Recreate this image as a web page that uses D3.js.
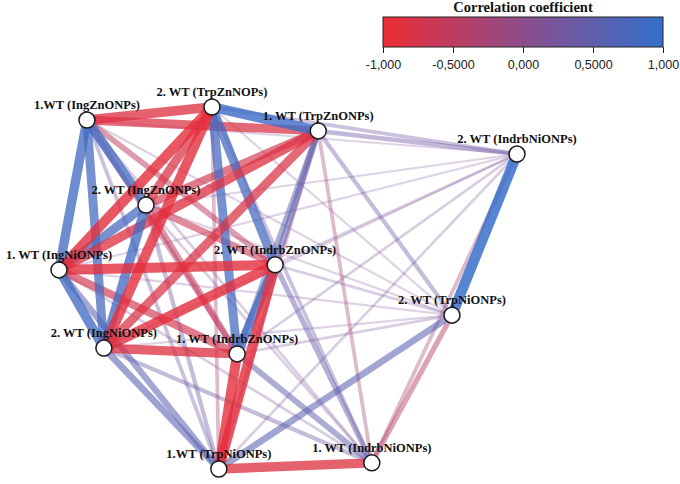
<!DOCTYPE html>
<html>
<head>
<meta charset="utf-8">
<script src="https://cdn.jsdelivr.net/npm/d3@7"></script>
<style>
  html, body { margin: 0; padding: 0; background: #fff; }
  svg { display: block; }
</style>
</head>
<body>
<svg id="chart" width="680" height="484"></svg>
<script>
// node names, in layout order
var nodeLabels = [
  "1.WT (IngZnONPs)",    // 0
  "2. WT (TrpZnNOPs)",   // 1
  "1. WT (TrpZnONPs)",   // 2
  "2. WT (IndrbNiONPs)", // 3
  "2. WT (IngZnONPs)",   // 4
  "1. WT (IngNiONPs)",   // 5
  "2. WT (IndrbZnONPs)", // 6
  "2. WT (TrpNiONPs)",   // 7
  "2. WT (IngNiONPs)",   // 8
  "1. WT (IndrbZnONPs)", // 9
  "1.WT (TrpNiONPs)",    // 10
  "1. WT (IndrbNiONPs)"  // 11
];

// layout coordinates (unit square)
var layoutX = [0.061, 0.334, 0.566, 1.000, 0.190, 0.000, 0.472, 0.858, 0.098, 0.389, 0.349, 0.683];
var layoutY = [0.036, 0.000, 0.066, 0.130, 0.271, 0.450, 0.436, 0.575, 0.666, 0.682, 1.000, 0.983];

// correlations [from, to, r]
var edges = [
  [0,1,-0.85],[0,2,-0.80],[0,3,0.15],[0,4,0.85],[0,5,0.85],[0,6,-0.50],
  [0,7,0.15],[0,8,0.80],[0,9,-0.45],[0,10,0.30],[0,11,0.20],
  [1,2,0.90],[1,3,0.30],[1,4,-0.80],[1,5,-0.90],[1,6,0.80],[1,7,0.15],
  [1,8,-0.90],[1,9,0.80],[1,10,-0.30],[1,11,0.30],
  [2,3,0.38],[2,4,-0.70],[2,5,-0.85],[2,6,0.55],[2,7,0.35],[2,8,-0.80],
  [2,9,0.50],[2,10,-0.30],[2,11,-0.30],
  [3,4,0.15],[3,5,0.15],[3,6,0.20],[3,7,0.95],[3,8,0.15],[3,9,0.20],
  [3,10,0.20],[3,11,-0.30],
  [4,5,0.80],[4,6,-0.60],[4,7,0.15],[4,8,0.85],[4,9,-0.55],[4,10,0.35],[4,11,0.20],
  [5,6,-0.90],[5,7,0.15],[5,8,0.85],[5,9,-0.70],[5,10,0.55],[5,11,0.20],
  [6,7,0.20],[6,8,-0.90],[6,9,0.85],[6,10,-0.90],[6,11,0.45],
  [7,8,0.15],[7,9,0.20],[7,10,0.58],[7,11,-0.45],
  [8,9,-0.85],[8,10,0.60],[8,11,0.35],
  [9,10,-0.90],[9,11,0.50],
  [10,11,-0.85]
];

var legendTicks = [-1, -0.5, 0, 0.5, 1];
var legendTickLabels = ["-1,000", "-0,5000", "0,000", "0,5000", "1,000"];

var svg = d3.select("#chart");

var x = d3.scaleLinear().domain([0, 1]).range([59, 517]);
var y = d3.scaleLinear().domain([0, 1]).range([107, 469]);

var color = d3.scaleLinear()
  .domain([-1, 0, 1])
  .range(["#ee2c35", "#8c4d8c", "#3470cc"]);
var width = d3.scaleLinear().domain([0, 1]).range([0.6, 11]);
var alpha = d3.scaleLinear().domain([0, 1]).range([0.15, 0.88]);

var sorted = edges.slice().sort(function(a, b) { return Math.abs(a[2]) - Math.abs(b[2]); });

svg.append("g").selectAll("line")
  .data(sorted)
  .enter().append("line")
  .attr("x1", function(d) { return x(layoutX[d[0]]); })
  .attr("y1", function(d) { return y(layoutY[d[0]]); })
  .attr("x2", function(d) { return x(layoutX[d[1]]); })
  .attr("y2", function(d) { return y(layoutY[d[1]]); })
  .attr("stroke", function(d) { return color(d[2]); })
  .attr("stroke-width", function(d) { return width(Math.abs(d[2])); })
  .attr("stroke-opacity", function(d) { return alpha(Math.abs(d[2])); });

// labels
svg.append("g").selectAll("text")
  .data(nodeLabels)
  .enter().append("text")
  .attr("x", function(d, i) { return x(layoutX[i]); })
  .attr("y", function(d, i) { return y(layoutY[i]) - 11; })
  .attr("text-anchor", "middle")
  .attr("font-family", "'Liberation Serif', 'Times New Roman', serif")
  .attr("font-weight", "bold")
  .attr("font-size", "12.5px")
  .attr("fill", "#111")
  .text(function(d) { return d; });

// nodes
svg.append("g").selectAll("circle")
  .data(nodeLabels)
  .enter().append("circle")
  .attr("cx", function(d, i) { return x(layoutX[i]); })
  .attr("cy", function(d, i) { return y(layoutY[i]); })
  .attr("r", 8)
  .attr("fill", "#fff")
  .attr("stroke", "#1a1a1a")
  .attr("stroke-width", 1.5);

// legend
var lx = d3.scaleLinear().domain([-1, 1]).range([383, 663]);
var defs = svg.append("defs");
var grad = defs.append("linearGradient").attr("id", "cgrad");
d3.range(0, 1.0001, 0.1).forEach(function(t) {
  grad.append("stop")
    .attr("offset", (t * 100) + "%")
    .attr("stop-color", color(-1 + 2 * t));
});

var legend = svg.append("g");
legend.append("text")
  .attr("x", (lx(-1) + lx(1)) / 2)
  .attr("y", 12)
  .attr("text-anchor", "middle")
  .attr("font-family", "'Liberation Serif', 'Times New Roman', serif")
  .attr("font-weight", "bold")
  .attr("font-size", "14.5px")
  .attr("fill", "#111")
  .text("Correlation coefficient");

legend.append("rect")
  .attr("x", lx(-1))
  .attr("y", 17)
  .attr("width", lx(1) - lx(-1))
  .attr("height", 30)
  .attr("fill", "url(#cgrad)")
  .attr("stroke", "#222")
  .attr("stroke-width", 1);

var axis = d3.axisBottom(lx)
  .tickValues(legendTicks)
  .tickSize(6)
  .tickFormat(function(d, i) { return legendTickLabels[i]; });

var ag = legend.append("g")
  .attr("transform", "translate(0,47)")
  .call(axis);
ag.select(".domain").remove();
ag.selectAll("line").attr("stroke", "#222");
ag.selectAll("text")
  .attr("font-family", "'Liberation Sans', Arial, sans-serif")
  .attr("font-size", "12.5px")
  .attr("fill", "#222")
  .attr("dy", "1.05em");
</script>
</body>
</html>
